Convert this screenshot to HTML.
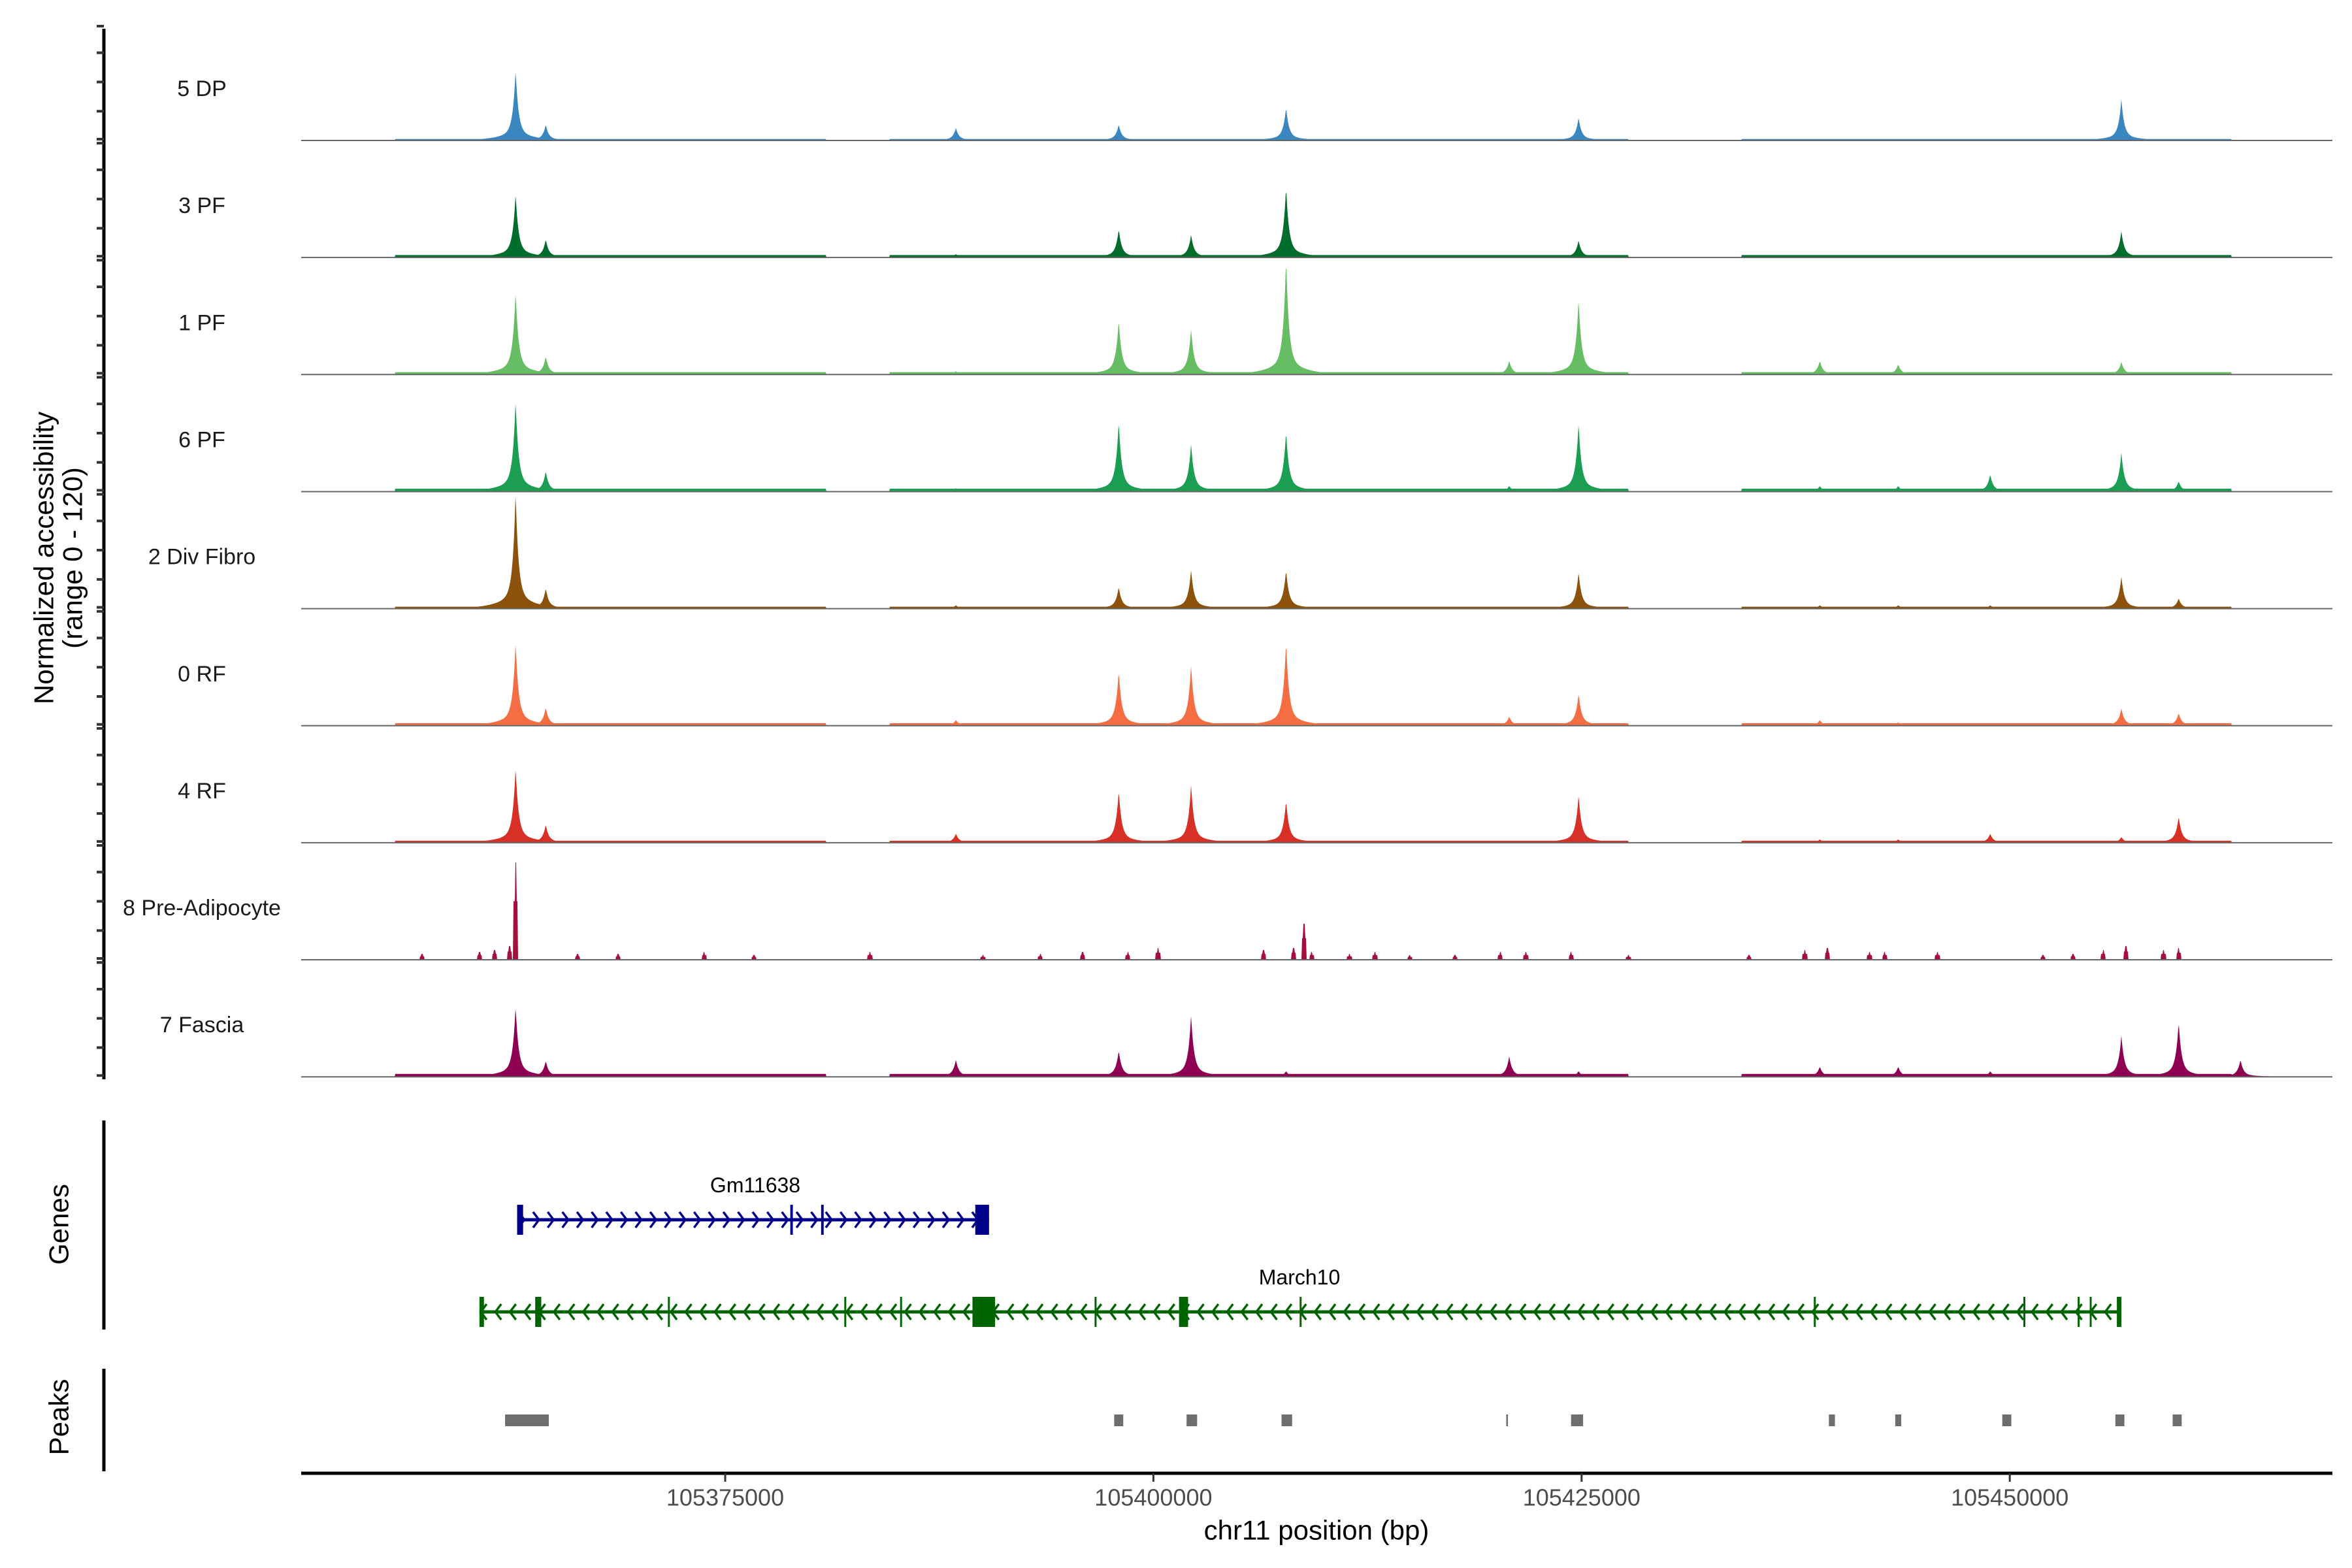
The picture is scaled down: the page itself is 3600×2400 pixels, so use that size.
<!DOCTYPE html>
<html><head><meta charset="utf-8"><style>
html,body{margin:0;padding:0;background:#fff}
svg{display:block;font-family:"Liberation Sans",Arial,sans-serif}
</style></head><body>
<svg id="chart" width="3600" height="2400" viewBox="0 0 3600 2400" xmlns="http://www.w3.org/2000/svg">
<rect x="0" y="0" width="3600" height="2400" fill="#fff"/>
<g id="tracks"></g>
<g id="yaxis"></g>
<text transform="translate(67,854) rotate(-90)" text-anchor="middle" dominant-baseline="central" font-size="42">Normalized accessibility</text>
<text transform="translate(111,854) rotate(-90)" text-anchor="middle" dominant-baseline="central" font-size="42">(range 0 - 120)</text>
<g id="genes"></g>
<line x1="159" y1="1715" x2="159" y2="2035" stroke="#000" stroke-width="5"/>
<text transform="translate(90,1874) rotate(-90)" text-anchor="middle" dominant-baseline="central" font-size="42">Genes</text>
<g id="peaks"></g>
<line x1="159" y1="2095" x2="159" y2="2252" stroke="#000" stroke-width="5"/>
<text transform="translate(90,2169) rotate(-90)" text-anchor="middle" dominant-baseline="central" font-size="42">Peaks</text>
<g id="xaxis"></g>
<text x="2015" y="2342" text-anchor="middle" dominant-baseline="central" font-size="42">chr11 position (bp)</text>
</svg>
<script>
// ---- data ----
const trackNames = ["5 DP","3 PF","1 PF","6 PF","2 Div Fibro","0 RF","4 RF","8 Pre-Adipocyte","7 Fascia"];
const trackColors = ["#3a87c0","#006d2c","#66bd63","#1b9e52","#8c510a","#f46d43","#d73027","#a50f3c","#8e0152"];
const peakPositions = [105362764,105364524,105388469,105397976,105402201,105407747,105420776,105424825,105438910,105443487,105448857,105456516,105459861,105463470];
const heights5DP   = [62,14,11,14,0,29,0,20,0,0,0,36,0,0];
const heights3PF   = [56,16,3,25,20,62,0,15,0,0,0,23,0,0];
const heights1PF   = [73,16,3,48,40,102,12,66,12,9,0,11,0,0];
const heights6PF   = [80,18,3,62,42,53,5,60,5,5,15,34,9,0];
const heights2Div  = [102,18,3,19,34,34,0,32,3,3,3,28,9,0];
const heights0RF   = [73,16,5,48,53,74,8,28,5,3,0,15,11,0];
const heights4RF   = [66,16,8,46,51,37,0,42,3,3,8,5,23,0];
const heights7Fas  = [62,14,15,23,54,5,18,5,9,9,5,36,48,15];
const bgRanges = [[105355722,105380898],[105384595,105427730],[105434333,105462943]];
const bgLevels = [1.5,2.5,2.5,3,2,2.5,2,0,3];
const preAdipPositions = [105357306,105360651,105361532,105362412,105362764,105366373,105368750,105373768,105376673,105383451,105390053,105393398,105395863,105398504,105400265,105406427,105408188,105408803,105409244,105411445,105412941,105414966,105417607,105420248,105421744,105424385,105427730,105434772,105438030,105439350,105441815,105442695,105445776,105451938,105453699,105455459,105456780,105458981,105459861];
const preAdipHeights = [6,8,10,14,100,6,6,8,5,8,5,6,8,8,12,10,12,37,8,6,8,5,5,8,8,8,5,5,10,12,8,8,8,5,6,10,14,10,12];
const xTicks = [105375000,105400000,105425000,105450000];
const geneNames = ["Gm11638","March10"];
const gm11638Span = [105362852,105390405];
const gm11638Exons = [[105362852,105363200],[105378800,105378950],[105380600,105380750],[105389600,105390405]];
const march10Span = [105360651,105456516];
const march10Exons = [[105360651,105360915],[105363908,105364260],[105371655,105371750],[105381954,105382050],[105385211,105385300],[105389437,105390757],[105396567,105396660],[105401497,105402025],[105408539,105408630],[105438558,105438650],[105450794,105450880],[105453963,105454050],[105454667,105454750],[105456252,105456516]];
const peakRegions = [[105362148,105364700],[105397712,105398240],[105401937,105402553],[105407483,105408099],[105420600,105420700],[105424385,105425089],[105439438,105439790],[105443311,105443663],[105449561,105450089],[105456164,105456692],[105459509,105460037]];

// ---- scales ----
const NS="http://www.w3.org/2000/svg";
const X0=461, X1=3570;
const xScale = bp => 1110 + (bp-105375000)/25000*655.4;
const bpAt = px => 105375000 + (px-1110)/655.4*25000;
const trackBase = i => 215 + i*179.15;
const trackH = 179;
const yScale = (i,v) => trackBase(i) - v/120*trackH;
function mk(tag, attrs, parent){const e=document.createElementNS(NS,tag);for(const k in attrs)e.setAttribute(k,attrs[k]);parent.appendChild(e);return e;}

const heightSets=[heights5DP,heights3PF,heights1PF,heights6PF,heights2Div,heights0RF,heights4RF,null,heights7Fas];
const tracksG=document.getElementById('tracks');
for(let i=0;i<trackNames.length;i++){
  const g=mk('g',{},tracksG);
  
  
  let d='M'+X0+','+trackBase(i);
  for(let px=X0;px<=X1;px+=1){
    const bp=bpAt(px);
    let v=0;
    if(heightSets[i]){
      const hs=heightSets[i];
      for(let k=0;k<peakPositions.length;k++){
        if(!hs[k])continue;
        const dd=Math.abs(bp-peakPositions[k]);
        v=Math.max(v,hs[k]*Math.exp(-dd/160)+0.18*hs[k]*Math.exp(-dd/1000));
      }
      for(const r of bgRanges){ if(bp>=r[0]&&bp<=r[1]) v=Math.max(v,bgLevels[i]); }
    } else {
      for(let k=0;k<preAdipPositions.length;k++){
        const dd=Math.abs(bp-preAdipPositions[k]);
        if(dd<140) v=Math.max(v,preAdipHeights[k]*(dd<45?1:0.6));
      }
    }
    v=Math.min(v,120);
    d+=' L'+px+','+yScale(i,v).toFixed(1);
  }
  d+=' L'+X1+','+trackBase(i)+' Z';
  const p=mk('path',{d:d,fill:trackColors[i],stroke:'none'},g);
  
  
  const bl=mk('line',{x1:X0,y1:trackBase(i),x2:X1,y2:trackBase(i),stroke:'#666','stroke-width':2},g);
  
  
  const t=mk('text',{x:309,y:trackBase(i)-79,'text-anchor':'middle','dominant-baseline':'central','font-size':34,fill:'#1a1a1a'},g);
  t.textContent=trackNames[i];
  
  
}

// y axis
const ya=document.getElementById('yaxis');
const yl=mk('line',{x1:159,y1:44,x2:159,y2:1652,stroke:'#000','stroke-width':5},ya);


for(let i=0;i<trackNames.length;i++){
  for(let v=0;v<=120;v+=30){
    const y=yScale(i,v)+(v===120?4:(v===0?-2:0));
    const tk=mk('line',{x1:148,y1:y,x2:159,y2:y,stroke:'#333','stroke-width':4},ya);
    
    
  }
}

// genes
const gg=document.getElementById('genes');
function drawGene(name, span, exons, y, color, dir, lx, ly){
  const g=mk('g',{},gg);
  
  
  mk('line',{x1:xScale(span[0]),y1:y,x2:xScale(span[1]),y2:y,stroke:color,'stroke-width':5},g);
  let d='';
  for(let x=xScale(span[0])+6;x<xScale(span[1])-4;x+=22.4){
    if(dir>0) d+='M'+(x-4)+','+(y-12)+' L'+(x+5)+','+y+' L'+(x-4)+','+(y+12)+' ';
    else d+='M'+(x+5)+','+(y-12)+' L'+(x-4)+','+y+' L'+(x+5)+','+(y+12)+' ';
  }
  mk('path',{d:d,fill:'none',stroke:color,'stroke-width':3.5},g);
  for(const e of exons){
    const x0=xScale(e[0]), w=Math.max(xScale(e[1])-x0,3);
    const r=mk('rect',{x:x0,y:y-23,width:w,height:46,fill:color},g);
    
    
  }
  const t=mk('text',{x:lx,y:ly,'text-anchor':'middle','dominant-baseline':'central','font-size':32,fill:'#000'},g);
  t.textContent=name;
  
  
}
drawGene(geneNames[0],gm11638Span,gm11638Exons,1867,'#00008b',1,1156,1814);
drawGene(geneNames[1],march10Span,march10Exons,2008,'#006400',-1,1989,1955);

// peaks
const pg=document.getElementById('peaks');
for(const r of peakRegions){
  const x0=xScale(r[0]);
  const rc=mk('rect',{x:x0,y:2165,width:Math.max(xScale(r[1])-x0,2),height:18,fill:'#6e6e6e'},pg);
  
  
}

// x axis
const xa=document.getElementById('xaxis');
const xl=mk('line',{x1:X0,y1:2255,x2:X1,y2:2255,stroke:'#000','stroke-width':5},xa);


for(const t of xTicks){
  const x=xScale(t);
  const tk=mk('line',{x1:x,y1:2255,x2:x,y2:2268,stroke:'#333','stroke-width':3},xa);
  
  
  const tl=mk('text',{x:x,y:2292,'text-anchor':'middle','dominant-baseline':'central','font-size':36,fill:'#4d4d4d'},xa);
  tl.textContent=String(t);
  
  
}
</script>
</body></html>
